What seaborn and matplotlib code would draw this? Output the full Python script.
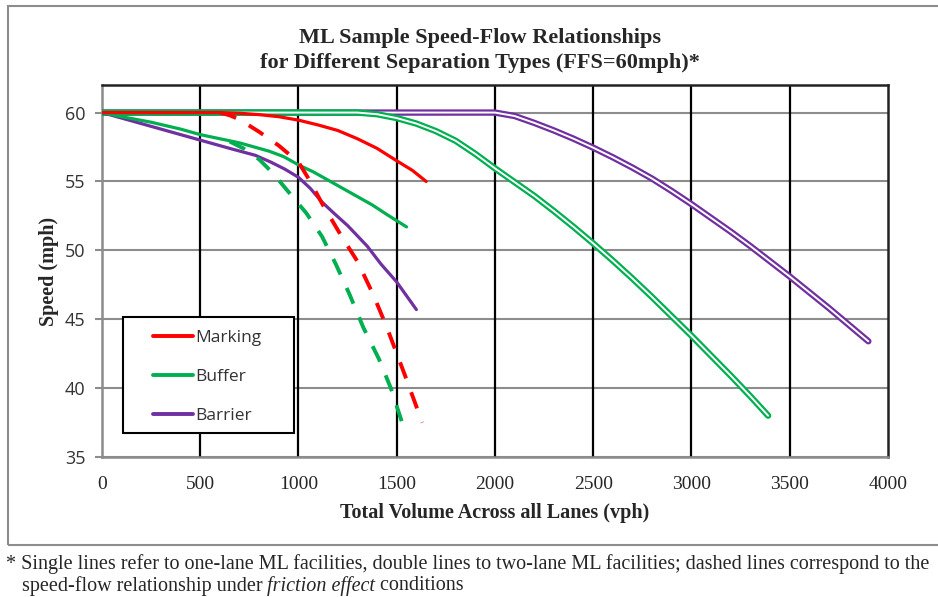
import matplotlib
matplotlib.use("Agg")
import matplotlib.pyplot as plt
import seaborn as sns
from matplotlib.patches import Rectangle
from matplotlib.lines import Line2D

# data (volume in vph, speed in mph)
marking_x = [0, 600, 700, 800, 900, 1000, 1100, 1200, 1300, 1400, 1500, 1580, 1650]
marking_y = [60, 60, 59.95, 59.85, 59.7, 59.45, 59.1, 58.7, 58.1, 57.4, 56.5, 55.8, 55.0]

marking_fr_x = [600, 650, 700, 800, 900, 1000, 1060, 1120, 1220, 1300, 1380, 1450, 1540, 1630]
marking_fr_y = [60, 59.8, 59.5, 58.6, 57.6, 56.4, 55.0, 53.4, 51.0, 49.2, 46.8, 44.4, 41.0, 37.5]

buffer_x = [0, 100, 250, 400, 500, 600, 700, 850, 925, 1000, 1075, 1150, 1225, 1300, 1375, 1450, 1550]
buffer_y = [60, 59.7, 59.3, 58.8, 58.4, 58.1, 57.8, 57.2, 56.8, 56.2, 55.7, 55.1, 54.5, 53.9, 53.3, 52.6, 51.7]

buffer_fr_x = [650, 720, 800, 870, 940, 1040, 1120, 1190, 1260, 1330, 1410, 1470, 1525]
buffer_fr_y = [57.9, 57.4, 56.6, 55.6, 54.4, 52.7, 51.0, 49.0, 46.8, 44.4, 42.1, 40.0, 37.6]

barrier_x = [0, 100, 250, 500, 650, 780, 860, 930, 1000, 1060, 1120, 1180, 1250, 1350, 1420, 1500, 1600]
barrier_y = [60, 59.6, 59.0, 58.0, 57.4, 56.9, 56.4, 55.9, 55.3, 54.5, 53.5, 52.7, 51.8, 50.3, 49.0, 47.7, 45.7]

buffer2_x = [0, 1300, 1400, 1500, 1600, 1700, 1800, 1900, 2000, 2100, 2200, 2300, 2400, 2500,
             2600, 2700, 2800, 2900, 3000, 3100, 3200, 3300, 3390]
buffer2_y = [60, 60, 59.88, 59.6, 59.2, 58.65, 57.95, 57.0, 55.95, 54.95, 53.95, 52.85, 51.7, 50.5,
             49.25, 47.95, 46.6, 45.2, 43.8, 42.35, 40.9, 39.4, 38.0]

barrier2_x = [0, 2000, 2100, 2200, 2300, 2400, 2500, 2600, 2700, 2800, 2900, 3000,
              3100, 3200, 3300, 3400, 3500, 3600, 3700, 3800, 3900]
barrier2_y = [60, 60, 59.75, 59.25, 58.7, 58.1, 57.45, 56.75, 56.0, 55.2, 54.3, 53.35,
              52.35, 51.35, 50.3, 49.2, 48.1, 46.95, 45.8, 44.6, 43.4]

x_ticks = [0, 500, 1000, 1500, 2000, 2500, 3000, 3500, 4000]
y_ticks = [35, 40, 45, 50, 55, 60]
legend_labels = ["Marking", "Buffer", "Barrier"]

red = "#FF0000"
green = "#00B050"
purple = "#7030A0"

sns.set_theme(style="white")
plt.rcParams["font.family"] = ["Liberation Serif", "DejaVu Serif"]

fig = plt.figure(figsize=(9.38, 5.97), dpi=100)
ax = fig.add_axes([0.1087, 0.2345, 0.838, 0.6231])

# grid: gray horizontal, black vertical
for yv in y_ticks:
    ax.axhline(yv, color="#8c8c8c", lw=1.5, zorder=1)
for xv in x_ticks[1:-1]:
    ax.axvline(xv, color="black", lw=1.6, zorder=1)

# double lines (two-lane facilities)
for xs, ys, c in [(barrier2_x, barrier2_y, purple), (buffer2_x, buffer2_y, green)]:
    sns.lineplot(x=xs, y=ys, color=c, lw=4.6, sort=False, estimator=None, ax=ax, zorder=3)
    sns.lineplot(x=xs, y=ys, color="white", lw=1.4, sort=False, estimator=None, ax=ax, zorder=3)

# single lines
sns.lineplot(x=barrier_x, y=barrier_y, color=purple, lw=2.3, sort=False, estimator=None, ax=ax, zorder=4)
sns.lineplot(x=buffer_x, y=buffer_y, color=green, lw=2.3, sort=False, estimator=None, ax=ax, zorder=4)
sns.lineplot(x=marking_x, y=marking_y, color=red, lw=2.3, sort=False, estimator=None, ax=ax, zorder=4)

# friction effect (dashed)
sns.lineplot(x=buffer_fr_x, y=buffer_fr_y, color=green, lw=2.8, sort=False, estimator=None,
             ax=ax, zorder=5, linestyle=(0, (4.4, 3.8)))
sns.lineplot(x=marking_fr_x, y=marking_fr_y, color=red, lw=2.8, sort=False, estimator=None,
             ax=ax, zorder=5, linestyle=(0, (4.4, 3.8)))

ax.set_xlim(0, 4000)
ax.set_ylim(35, 62)
ax.set_xticks(x_ticks)
ax.set_yticks(y_ticks)
ax.set_xticklabels([str(t) for t in x_ticks], fontsize=14, family="Liberation Serif")
ax.set_yticklabels([str(t) for t in y_ticks], fontsize=13, family="Open Sans", color="#333333")
ax.tick_params(axis="y", length=5, width=1.5, color="#8c8c8c", direction="out", left=True, pad=7)
ax.tick_params(axis="x", length=0, pad=14)

for side in ["left", "bottom"]:
    ax.spines[side].set_color("#8c8c8c")
    ax.spines[side].set_linewidth(1.8)
for side in ["top", "right"]:
    ax.spines[side].set_color("#222222")
    ax.spines[side].set_linewidth(1.8)

ax.set_xlabel("Total Volume Across all Lanes (vph)", fontsize=14.5, fontweight="bold", labelpad=7)
ax.set_ylabel("Speed (mph)", fontsize=14.5, fontweight="bold", labelpad=4)

# legend box drawn as a patch, entries placed inside it
ax.add_patch(Rectangle((0.0267, 0.0645), 0.2176, 0.3118, transform=ax.transAxes,
                       facecolor="white", edgecolor="black", lw=1.5, zorder=9))
handles = [Line2D([], [], color=c, lw=2.8) for c in [red, green, purple]]
leg = ax.legend(handles, legend_labels, loc="upper left",
                bbox_to_anchor=(0.0649, 0.342), frameon=False,
                prop={"family": "Open Sans", "size": 12.5},
                handlelength=2.3, handletextpad=0.15, labelspacing=1.33,
                borderpad=0, borderaxespad=0)
leg.set_zorder(10)
for t in leg.get_texts():
    t.set_color("#333333")

fig.text(0.512, 0.937, "ML Sample Speed-Flow Relationships", ha="center", va="center",
         fontsize=16, fontweight="bold")
fig.text(0.512, 0.895, "for Different Separation Types (FFS=60mph)*", ha="center", va="center",
         fontsize=16, fontweight="bold")

# outer chart frame
fig.patches.append(Rectangle((8 / 938, 1 - 545 / 597), 1.2, 539 / 597, transform=fig.transFigure,
                             fill=False, edgecolor="#8c8c8c", lw=1.5))

fs = 14.5
fig.text(0.006, 0.056, "* Single lines refer to one-lane ML facilities, double lines to two-lane ML facilities; "
         "dashed lines correspond to the", ha="left", va="center", fontsize=fs)
t1 = fig.text(0.023, 0.019, "speed-flow relationship under ", ha="left", va="center", fontsize=fs)
fig.canvas.draw()
x2 = t1.get_window_extent().x1 / fig.bbox.width
t2 = fig.text(x2, 0.019, "friction effect", ha="left", va="center", fontsize=fs, style="italic")
fig.canvas.draw()
x3 = t2.get_window_extent().x1 / fig.bbox.width
fig.text(x3, 0.019, " conditions", ha="left", va="center", fontsize=fs)

fig.savefig("out.png", dpi=100)
